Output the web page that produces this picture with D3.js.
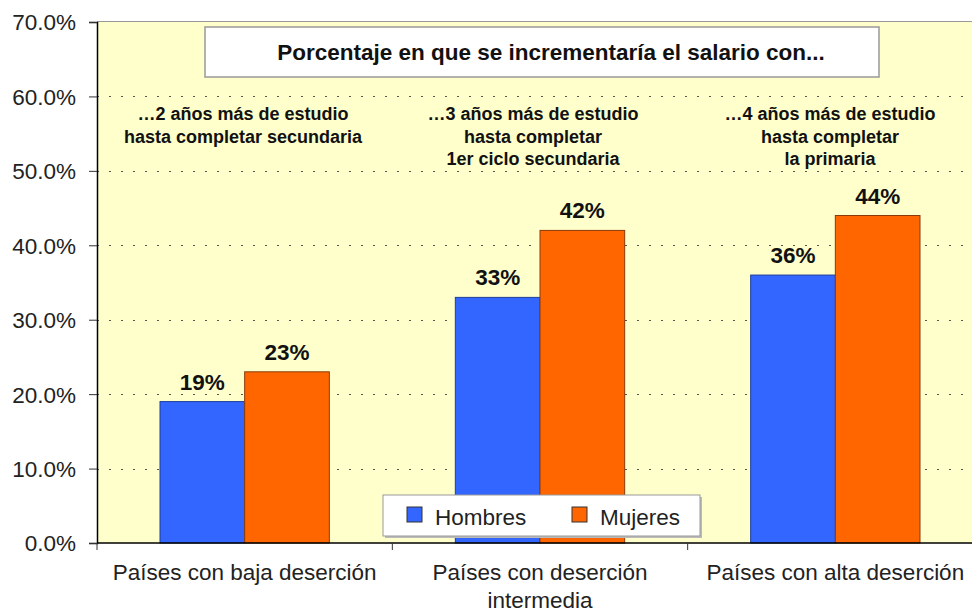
<!DOCTYPE html>
<meta charset="utf-8">
<style>
    body { margin: 0; background: #fff; }
    svg { font-family: Arial, "Liberation Sans", sans-serif; }
    .grid line { stroke: #555; stroke-dasharray: 2,10; }
    .axis text { font-size: 22.5px; fill: #222; }
</style>
<script src="https://cdn.jsdelivr.net/npm/d3@7"></script>
<svg width="972" height="609"></svg>
<script>

    var categories = ["Países con baja deserción", "Países con deserción intermedia", "Países con alta deserción"];
    var catLines = [["Países con baja deserción"], ["Países con deserción", "intermedia"], ["Países con alta deserción"]];
    var series = ["Hombres", "Mujeres"];
    var hombres = [19, 33, 36];
    var mujeres = [23, 42, 44];
    var notes = [
        ["…2 años más de estudio", "hasta completar secundaria"],
        ["…3 años más de estudio", "hasta completar", "1er ciclo secundaria"],
        ["…4 años más de estudio", "hasta completar", "la primaria"]
    ];
    var yTicks = [0, 10, 20, 30, 40, 50, 60, 70];
    var title = "Porcentaje en que se incrementaría el salario con...";

    var colors = {Hombres: "#3366ff", Mujeres: "#ff6600"};

    var svg = d3.select("svg"),
        margin = {top: 22, right: 0, bottom: 66, left: 97},
        width = 886,   // plot runs a bit past the right edge, like the original
        height = +svg.attr("height") - margin.top - margin.bottom,
        g = svg.append("g").attr("transform", "translate(" + margin.left + "," + margin.top + ")");

    var x = d3.scaleBand().domain(categories).range([0, width]).paddingInner(0).paddingOuter(0);
    var x1 = d3.scaleBand().domain(series).range([63, x.bandwidth() - 63]);
    var y = d3.scaleLinear().domain([0, 70]).range([height, 0]);

    // plot background
    g.append("rect")
        .attr("width", width).attr("height", height)
        .attr("fill", "#ffffcc");
    g.append("line")
        .attr("x1", 0).attr("x2", width).attr("y1", -0.5).attr("y2", -0.5)
        .attr("stroke", "#999");

    // dotted gridlines
    g.append("g").attr("class", "grid")
        .selectAll("line").data(yTicks.filter(function (d) { return d > 0 && d < 70; }))
        .enter().append("line")
        .attr("x1", 0).attr("x2", width)
        .attr("y1", function (d) { return Math.round(y(d)) + 0.5; })
        .attr("y2", function (d) { return Math.round(y(d)) + 0.5; });

    // title box
    g.append("rect")
        .attr("x", 108).attr("y", 5).attr("width", 674).attr("height", 50)
        .attr("fill", "#fff").attr("stroke", "#999").attr("stroke-width", 1.5);
    g.append("text")
        .attr("x", 454).attr("y", 38)
        .attr("text-anchor", "middle")
        .attr("font-size", "22.5px").attr("font-weight", "bold").attr("fill", "#111")
        .text(title);

    // notes above each group
    var noteX = [146, 436, 733];
    notes.forEach(function (lines, i) {
        var t = g.append("text")
            .attr("text-anchor", "middle")
            .attr("font-size", "18px").attr("font-weight", "bold").attr("fill", "#111");
        lines.forEach(function (l, j) {
            t.append("tspan").attr("x", noteX[i]).attr("y", 98 + j * 22.5).text(l);
        });
    });

    var data = categories.map(function (c, i) {
        return {cat: c, values: [{key: "Hombres", v: hombres[i]}, {key: "Mujeres", v: mujeres[i]}]};
    });

    var groups = g.selectAll(".grp").data(data).enter().append("g")
        .attr("transform", function (d) { return "translate(" + x(d.cat) + ",0)"; });

    groups.selectAll("rect").data(function (d) { return d.values; })
        .enter().append("rect")
        .attr("x", function (d) { return x1(d.key); })
        .attr("y", function (d) { return y(d.v); })
        .attr("width", x1.bandwidth())
        .attr("height", function (d) { return height - y(d.v); })
        .attr("fill", function (d) { return colors[d.key]; })
        .attr("stroke", function (d) { return d.key === "Hombres" ? "#1f3f99" : "#8a3a0a"; })
        .attr("stroke-width", 1);

    groups.selectAll(".val").data(function (d) { return d.values; })
        .enter().append("text")
        .attr("x", function (d) { return x1(d.key) + x1.bandwidth() / 2; })
        .attr("y", function (d) { return y(d.v) - 12; })
        .attr("text-anchor", "middle")
        .attr("font-size", "22.5px").attr("font-weight", "bold").attr("fill", "#111")
        .text(function (d) { return d.v + "%"; });

    // y axis
    var yAxis = g.append("g").attr("class", "axis")
        .call(d3.axisLeft(y).tickValues(yTicks).tickSize(8).tickPadding(13)
            .tickFormat(function (d) { return d.toFixed(1) + "%"; }));
    yAxis.select(".domain").attr("stroke", "#000").attr("stroke-width", 1.5);
    yAxis.selectAll(".tick line").attr("stroke", "#333");
    yAxis.selectAll("text").attr("dy", "0.35em");

    // x axis
    var xAxis = g.append("g").attr("class", "axis")
        .attr("transform", "translate(0," + height + ")");
    xAxis.append("line").attr("x1", 0).attr("x2", width).attr("stroke", "#000").attr("stroke-width", 1.5);
    xAxis.selectAll(".xt").data(d3.range(categories.length + 1)).enter().append("line")
        .attr("x1", function (i) { return i * x.bandwidth(); })
        .attr("x2", function (i) { return i * x.bandwidth(); })
        .attr("y1", 0).attr("y2", 7).attr("stroke", "#333");
    categories.forEach(function (c, i) {
        var t = xAxis.append("text")
            .attr("text-anchor", "middle").attr("fill", "#222");
        catLines[i].forEach(function (l, j) {
            t.append("tspan").attr("x", x(c) + x.bandwidth() / 2).attr("y", 37 + j * 28).text(l);
        });
    });

    // legend
    var lg = svg.append("g").attr("transform", "translate(383,495)");
    lg.append("rect").attr("x", 2).attr("y", 2).attr("width", 317).attr("height", 41).attr("fill", "#bbb");
    lg.append("rect").attr("width", 317).attr("height", 41).attr("fill", "#fff").attr("stroke", "#999");
    var lx = [24, 189];
    series.forEach(function (s, i) {
        lg.append("rect").attr("x", lx[i]).attr("y", 12).attr("width", 15).attr("height", 15)
            .attr("fill", colors[s]).attr("stroke", "#333");
        lg.append("text").attr("x", lx[i] + 28).attr("y", 30)
            .attr("font-size", "22.5px").attr("fill", "#222").text(s);
    });

</script>
